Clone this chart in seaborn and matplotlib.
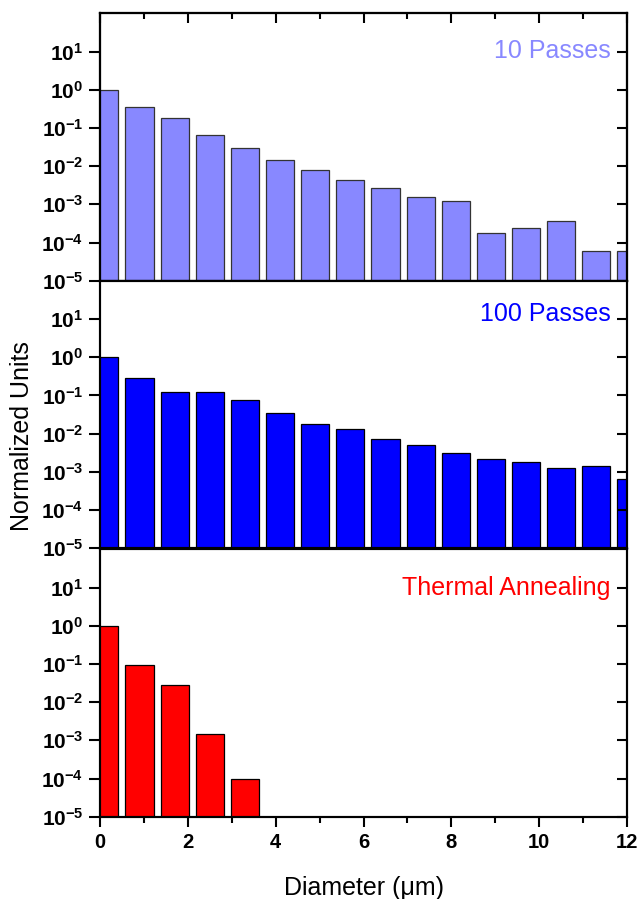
import matplotlib
matplotlib.use("Agg")
import matplotlib.pyplot as plt
from matplotlib.ticker import FixedLocator, NullLocator, MultipleLocator
import seaborn as sns
import pandas as pd

# Bin centres of the diameter histogram (um)
diameter = [0.1, 0.9, 1.7, 2.5, 3.3, 4.1, 4.9, 5.7, 6.5, 7.3, 8.1, 8.9, 9.7, 10.5, 11.3, 12.1]

# Normalized counts per bin
passes_10 = [1.0, 0.344, 0.181, 0.0637, 0.0303, 0.0144, 0.00774, 0.0044, 0.00262,
             0.00152, 0.00120, 0.000182, 0.000240, 0.000366, 0.0000599, 0.0000599]
passes_100 = [1.0, 0.293, 0.121, 0.121, 0.0744, 0.0339, 0.0179, 0.0132, 0.00748,
              0.00511, 0.00316, 0.00220, 0.00183, 0.00123, 0.00141, 0.00066]
thermal = [1.0, 0.091, 0.0277, 0.00149, 0.0001]

series_names = ["10 Passes", "100 Passes", "Thermal Annealing"]
series_values = [passes_10, passes_100, thermal]
series_colors = ["#8888FF", "#0000FF", "#FF0000"]
edge_colors = ["#333333", "#000000", "#000000"]

y_ticks = [1e-5, 1e-4, 1e-3, 1e-2, 1e-1, 1e0, 1e1]
y_tick_labels = [r"$\mathbf{10^{%d}}$" % e for e in range(-5, 2)]
x_ticks = [0, 2, 4, 6, 8, 10, 12]

sns.set_theme(style="ticks")
plt.rcParams["font.family"] = ["Liberation Sans", "DejaVu Sans"]
plt.rcParams["mathtext.fontset"] = "custom"
plt.rcParams["mathtext.rm"] = "Liberation Sans"
plt.rcParams["mathtext.bf"] = "Liberation Sans:bold"
plt.rcParams["axes.linewidth"] = 1.5
for key in ["text.color", "axes.labelcolor", "xtick.color", "ytick.color",
            "axes.edgecolor"]:
    plt.rcParams[key] = "black"

W, H = 642, 899
fig = plt.figure(figsize=(W / 100, H / 100), dpi=100)

left = 100 / W
width = 527 / W
height = 267.4 / H
bottoms = [618.3 / H, 350.7 / H, 82.3 / H]
name_y = [10, 14, 10]

for i, (name, vals, col, ec) in enumerate(zip(series_names, series_values,
                                              series_colors, edge_colors)):
    ax = fig.add_axes([left, bottoms[i], width, height])
    ax.set_yscale("log")
    df = pd.DataFrame({"diameter": diameter[:len(vals)], "value": vals})
    sns.barplot(data=df, x="diameter", y="value", native_scale=True,
                width=0.8, color=col, edgecolor=ec, linewidth=0.9,
                saturation=1, ax=ax)
    ax.set_xlim(0, 12)
    ax.set_ylim(1e-5, 1e2)
    ax.set_xlabel("")
    ax.set_ylabel("")

    # left axis: labelled decades, ticks pointing outward
    ax.yaxis.set_major_locator(FixedLocator(y_ticks))
    ax.yaxis.set_minor_locator(NullLocator())
    ax.set_yticklabels(y_tick_labels)
    ax.tick_params(axis="y", which="major", direction="out", length=8,
                   width=1.5, labelsize=15, pad=4, left=True, right=False)

    # right axis: unlabelled ticks pointing into the panel
    axr = ax.twinx()
    axr.set_yscale("log")
    axr.set_ylim(1e-5, 1e2)
    axr.yaxis.set_major_locator(FixedLocator(y_ticks))
    axr.yaxis.set_minor_locator(NullLocator())
    axr.tick_params(axis="y", which="major", direction="in", length=7,
                    width=1.5, labelright=False, right=True)
    for s in axr.spines.values():
        s.set_linewidth(1.5)

    ax.xaxis.set_major_locator(FixedLocator(x_ticks))
    ax.xaxis.set_minor_locator(MultipleLocator(1))
    if i == 2:
        ax.tick_params(axis="x", which="major", direction="out", length=7,
                       width=1.5, labelsize=14.5, pad=5)
        ax.tick_params(axis="x", which="minor", direction="out", length=4,
                       width=1.5)
        ax.set_xticklabels([str(t) for t in x_ticks], fontweight="bold")
        ax.set_xlabel("Diameter (\u03bcm)", fontsize=18, labelpad=17)
    else:
        ax.tick_params(axis="x", which="both", bottom=False, labelbottom=False)

    if i == 0:
        axt = ax.twiny()
        axt.set_xlim(0, 12)
        axt.xaxis.set_major_locator(FixedLocator(x_ticks))
        axt.xaxis.set_minor_locator(MultipleLocator(1))
        axt.tick_params(axis="x", which="major", direction="in", length=7.5,
                        width=1.5, labeltop=False, top=True)
        axt.tick_params(axis="x", which="minor", direction="in", length=4,
                        width=1.5, top=True)

    ax.text(11.62, name_y[i], name, color=col, fontsize=18, ha="right",
            va="center")

fig.text(22 / W, 1 - 436 / H, "Normalized Units", rotation=90, fontsize=18,
         ha="center", va="center")

fig.savefig("out.png", dpi=100)
